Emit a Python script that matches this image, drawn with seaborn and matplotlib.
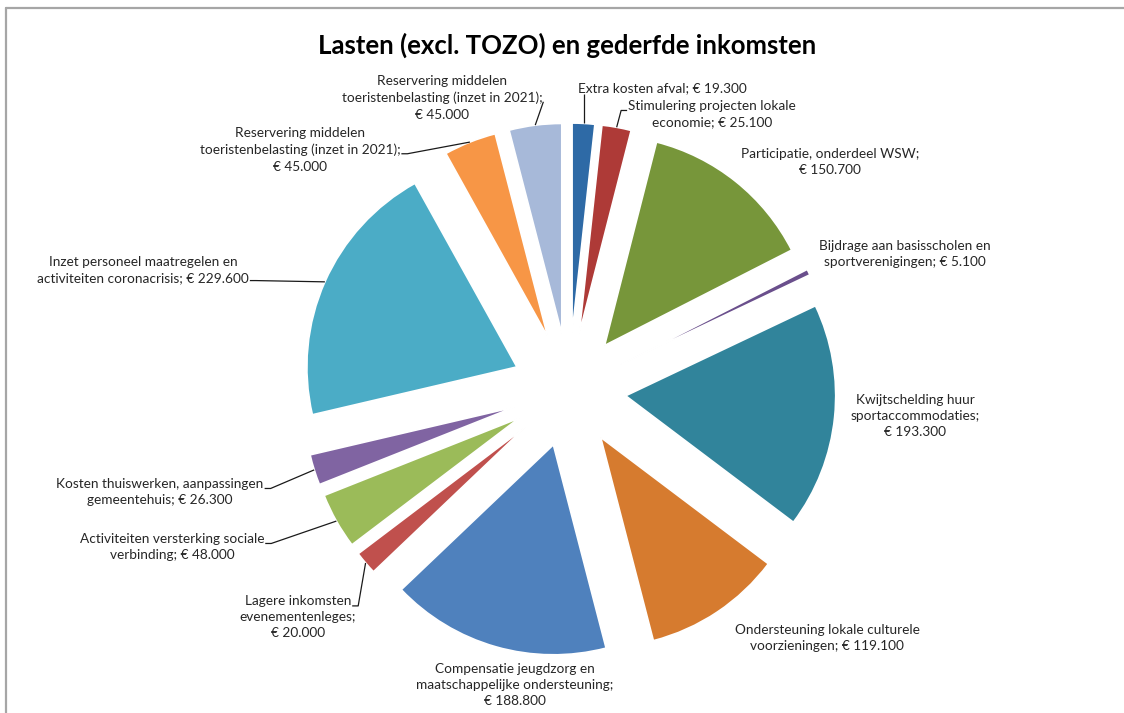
"""
Lasten (excl. TOZO) en gederfde inkomsten - exploded pie in Excel style
"""

import textwrap

import matplotlib
matplotlib.use("Agg")
import matplotlib.pyplot as plt
import numpy as np
import seaborn as sns

# ---------------------------------------------------------------- data
categories = [
    "Extra kosten afval",
    "Stimulering projecten lokale economie",
    "Participatie, onderdeel WSW",
    "Bijdrage aan basisscholen en sportverenigingen",
    "Kwijtschelding huur sportaccommodaties",
    "Ondersteuning lokale culturele voorzieningen",
    "Compensatie jeugdzorg en maatschappelijke ondersteuning",
    "Lagere inkomsten evenementenleges",
    "Activiteiten versterking sociale verbinding",
    "Kosten thuiswerken, aanpassingen gemeentehuis",
    "Inzet personeel maatregelen en activiteiten coronacrisis",
    "Reservering middelen toeristenbelasting (inzet in 2021)",
    "Reservering middelen toeristenbelasting (inzet in 2021)",
]
values = [19300, 25100, 150700, 5100, 193300, 119100, 188800,
          20000, 48000, 26300, 229600, 45000, 45000]
colors = ["#2E6AA6", "#AE3A37", "#77963A", "#6A4F8C", "#31849B", "#D67B2F",
          "#4F81BD", "#C0504D", "#9BBB59", "#8064A2", "#4BACC6", "#F79646",
          "#A7B9D9"]
title = "Lasten (excl. TOZO) en gederfde inkomsten"

# ---------------------------------------------------------------- layout
# everything below in image pixels, y measured from the top edge
W, H = 1124, 713
CENTER = (569, 390)
RADIUS = 210
EXPLODE = 57
FONT_SIZE = 9.8

wrap_width = [40, 28, 28, 28, 22, 30, 31, 17, 32, 32, 36, 35, 35]
label_xy = [(578, 88), (712, 114), (830, 162), (905, 254), (915, 416),
            (827, 638), (515, 685), (298, 617), (172, 547), (160, 492),
            (143, 270), (300, 150), (442, 98)]
label_ha = ["left"] + ["center"] * 12
# leader: (side of the text, line index, stub length) or None
leader = [("below", 0, 0), ("left", 0, 6), None, None, None, None, None,
          ("right", 0, 6), ("right", 0, 6), ("right", 0, 6), ("right", 1, 6),
          ("right", 1, 6), ("right", 1, 0)]


def euro(v):
    return "€~" + f"{v:,}".replace(",", ".")


def make_label(cat, v, width):
    txt = textwrap.fill(f"{cat}; {euro(v)}", width=width)
    return txt.replace("~", " ")


sns.set_theme(style="white")
plt.rcParams["font.family"] = ["Lato", "DejaVu Sans"]

fig = plt.figure(figsize=(W / 100, H / 100), dpi=100)
ax = fig.add_axes([0, 0, 1, 1])

palette = sns.color_palette(colors)
wedges, _ = ax.pie(
    values,
    colors=palette,
    startangle=90,
    counterclock=False,
    radius=RADIUS,
    center=(CENTER[0], H - CENTER[1]),
    explode=[EXPLODE] * len(values),
    wedgeprops=dict(edgecolor="white", linewidth=1.2),
)

ax.set_xlim(0, W)
ax.set_ylim(0, H)
ax.set_aspect("equal")
ax.axis("off")

texts = []
for i in range(len(values)):
    txt = make_label(categories[i], values[i], wrap_width[i])
    lx, ly = label_xy[i]
    t = ax.text(lx, H - ly, txt, ha=label_ha[i], va="center",
                multialignment="center", fontsize=FONT_SIZE, color="#262626",
                linespacing=1.42)
    texts.append(t)

# leader lines, hooked onto the rendered text lines
fig.canvas.draw()
renderer = fig.canvas.get_renderer()
inv = ax.transData.inverted()


def line_width(s):
    tmp = ax.text(0, 0, s, fontsize=FONT_SIZE)
    bb = tmp.get_window_extent(renderer).transformed(inv)
    tmp.remove()
    return bb.width


for i, w in enumerate(wedges):
    if leader[i] is None:
        continue
    side, line_idx, stub = leader[i]
    lines = texts[i].get_text().split("\n")
    bb = texts[i].get_window_extent(renderer).transformed(inv)
    line_h = bb.height / len(lines)
    y_line = bb.y1 - (line_idx + 0.75) * line_h
    half = line_width(lines[line_idx]) / 2
    cx = (bb.x0 + bb.x1) / 2

    mid = np.deg2rad((w.theta1 + w.theta2) / 2)
    ex = w.center[0] + w.r * np.cos(mid)
    ey = w.center[1] + w.r * np.sin(mid)

    if side == "right":
        x0 = cx + half + 1
        pts = [(x0, y_line), (x0 + stub, y_line)]
    elif side == "left":
        x0 = cx - half - 1
        pts = [(x0, y_line), (x0 - stub, y_line)]
    else:
        pts = [(ex, bb.y0)]
    xs = [p[0] for p in pts] + [ex]
    ys = [p[1] for p in pts] + [ey]
    ax.plot(xs, ys, color="#1a1a1a", lw=0.9, solid_capstyle="butt")

ax.text(567, H - 45, title, ha="center", va="center",
        fontsize=18.5, fontweight="bold", color="black")

# chart area outline (only top and left are visible in the crop)
ax.plot([6, W], [H - 8, H - 8], color="#a6a6a6", lw=1.6, clip_on=False)
ax.plot([6, 6], [H - 8, 0], color="#a6a6a6", lw=1.6, clip_on=False)

fig.savefig("out.png", dpi=100, facecolor="white")
